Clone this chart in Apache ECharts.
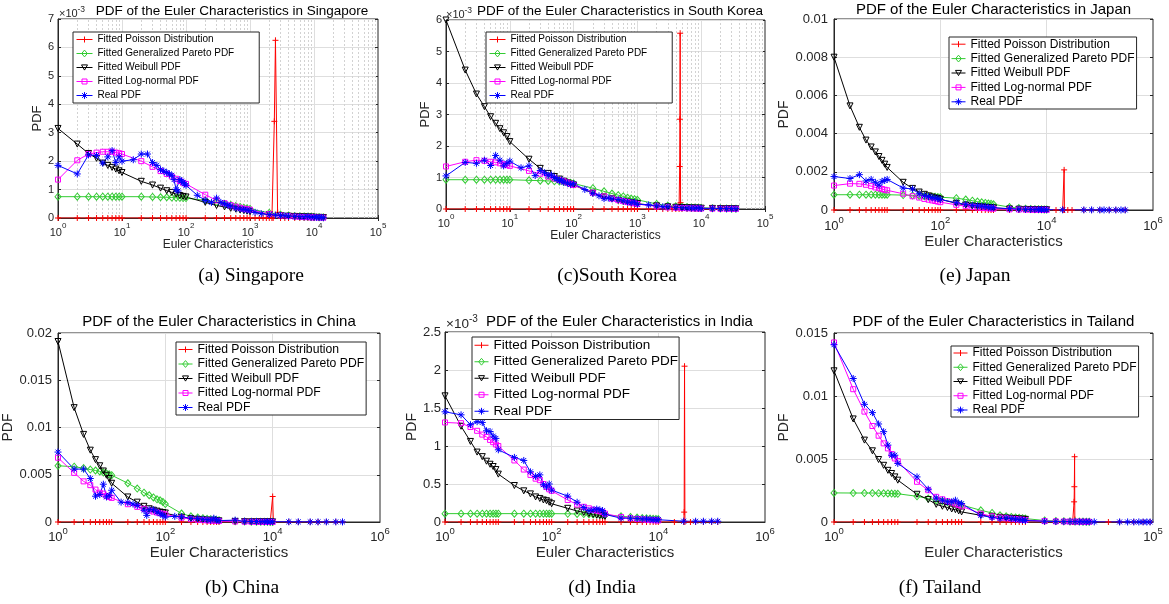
<!DOCTYPE html>
<html><head><meta charset="utf-8">
<script src="https://cdn.jsdelivr.net/npm/echarts@6/dist/echarts.min.js"></script>
<style>html,body{margin:0;padding:0;background:#fff}#c{width:1169px;height:604px}</style>
</head><body><div id="c"></div>
<script>
// ======================= DATA (PDF values in units of 1e-3) =======================
const NAMES = ['Fitted Poisson Distribution','Fitted Generalized Pareto PDF','Fitted Weibull PDF','Fitted Log-normal PDF','Real PDF'];

// ---- Singapore ----
const sgFitX = [1,2,3,4,5,6,7,8,9,10,20,30,40,50,60,70,80,90,100,200,300,400,500,600,700,800,900,1000,2000,3000,4000,5000,6000,7000,8000,9000,10000,12000,14000];
const sgPareto = [0.75,0.75,0.75,0.75,0.75,0.75,0.75,0.75,0.75,0.75,0.75,0.74,0.73,0.73,0.72,0.71,0.71,0.70,0.70,0.62,0.56,0.50,0.46,0.42,0.39,0.36,0.34,0.32,0.18,0.12,0.09,0.07,0.06,0.05,0.045,0.04,0.035,0.03,0.025];
const sgWeibull = [3.15,2.6,2.27,2.1,1.93,1.85,1.78,1.72,1.66,1.6,1.29,1.16,1.05,0.96,0.9,0.84,0.79,0.76,0.74,0.55,0.44,0.39,0.34,0.31,0.28,0.26,0.24,0.22,0.12,0.085,0.065,0.055,0.045,0.04,0.035,0.03,0.027,0.022,0.018];
const sgLognorm = [1.35,2.03,2.25,2.3,2.33,2.33,2.33,2.3,2.28,2.25,2.0,1.8,1.65,1.55,1.46,1.38,1.3,1.24,1.2,0.82,0.62,0.52,0.45,0.4,0.36,0.33,0.31,0.29,0.14,0.09,0.065,0.05,0.04,0.033,0.028,0.024,0.02,0.016,0.013];
const sgRealX = [1,2,3,4,5,6,7,8,9,10,15,20,25,30,35,40,45,50,55,60,65,70,75,80,85,90,95,100,150,200,250,300,350,400,450,500,600,700,800,900,1000,1200,1500,2000,2500,3000,3500,4000,5000,6000,7000,8000,9000,10000,11000,12000,13000,14000];
const sgRealY = [1.85,1.55,2.22,2.2,1.93,2.15,2.37,1.95,2.15,2.0,2.05,2.25,2.25,1.95,1.85,1.7,1.65,1.6,1.55,1.5,1.35,1.0,0.95,1.35,1.3,1.25,1.2,1.15,0.8,0.62,0.55,0.7,0.55,0.5,0.45,0.42,0.35,0.32,0.3,0.28,0.26,0.2,0.15,0.12,0.1,0.09,0.08,0.07,0.06,0.05,0.04,0.05,0.03,0.03,0.02,0.02,0.02,0.01];
const sgPoisX = [1,2,3,4,5,6,7,8,9,10,20,30,40,50,60,70,80,90,100,200,300,400,500,600,700,800,900,1000,1200,1400,1600,1800,2000,2200,2300,2400,2500,2700,3000,3500,4000,5000,6000,7000,8000,9000,10000,12000,14000];
const sgPoisY = [0,0,0,0,0,0,0,0,0,0,0,0,0,0,0,0,0,0,0,0,0,0,0,0,0,0,0,0,0,0,0,0,0,0,0,3.4,6.25,0.2,0,0,0,0,0,0,0,0,0,0,0];

// ---- South Korea ----
const skFitX = [1,2,3,4,5,6,7,8,9,10,20,30,40,50,60,70,80,90,100,200,300,400,500,600,700,800,900,1000,2000,3000,4000,5000,6000,7000,8000,9000,10000,15000,20000,25000,30000,35000];
const skPareto = [0.93,0.93,0.93,0.93,0.93,0.93,0.93,0.93,0.93,0.93,0.91,0.9,0.89,0.88,0.87,0.86,0.85,0.83,0.81,0.66,0.56,0.49,0.44,0.4,0.36,0.33,0.31,0.29,0.16,0.11,0.085,0.07,0.06,0.05,0.045,0.04,0.035,0.025,0.02,0.015,0.012,0.01];
const skWeibull = [6.0,4.41,3.65,3.25,2.93,2.72,2.55,2.42,2.3,2.14,1.58,1.29,1.13,1.03,0.95,0.88,0.83,0.79,0.76,0.5,0.38,0.32,0.27,0.24,0.22,0.2,0.18,0.17,0.1,0.07,0.055,0.045,0.04,0.035,0.03,0.027,0.025,0.018,0.013,0.01,0.008,0.007];
const skLognorm = [1.35,1.5,1.55,1.53,1.5,1.48,1.45,1.42,1.4,1.37,1.21,1.12,1.03,0.97,0.92,0.88,0.84,0.8,0.76,0.52,0.4,0.33,0.28,0.25,0.22,0.2,0.18,0.16,0.08,0.05,0.04,0.03,0.025,0.02,0.018,0.015,0.013,0.01,0.008,0.006,0.005,0.004];
const skRealX = [1,2,3,4,5,6,7,8,9,10,15,20,25,30,35,40,45,50,55,60,65,70,80,90,100,150,200,250,300,350,400,500,600,700,800,900,1000,1500,2000,2500,3000,4000,5000,6000,7000,8000,9000,10000,15000,20000,25000,30000,35000];
const skRealY = [1.05,1.48,1.45,1.55,1.38,1.7,1.55,1.37,1.45,1.52,1.31,1.37,1.06,1.22,1.15,1.07,1.08,1.0,0.95,0.9,0.92,0.85,0.82,0.78,0.8,0.62,0.5,0.42,0.33,0.35,0.32,0.3,0.26,0.22,0.2,0.22,0.15,0.13,0.1,0.07,0.07,0.05,0.04,0.03,0.03,0.03,0.03,0.02,0.02,0.015,0.01,0.01,0.01];
const skPoisX = [1,2,3,4,5,6,7,8,9,10,20,30,40,50,60,70,80,90,100,200,300,400,500,600,700,800,900,1000,1500,2000,2500,3000,3500,4000,4500,4600,4630,4680,4750,5000,6000,7000,8000,9000,10000,15000,20000,25000,30000,35000];
const skPoisY = [0,0,0,0,0,0,0,0,0,0,0,0,0,0,0,0,0,0,0,0,0,0,0,0,0,0,0,0,0,0,0,0,0,0,0,1.35,2.85,5.58,0.2,0,0,0,0,0,0,0,0,0,0,0];

// ---- Japan ----
const jpFitX = [1,2,3,4,5,6,7,8,9,10,20,30,40,50,60,70,80,90,100,200,300,400,500,600,700,800,900,1000,2000,3000,4000,5000,6000,7000,8000,9000,10000];
const jpPareto = [0.8,0.8,0.8,0.8,0.8,0.8,0.8,0.8,0.8,0.8,0.78,0.76,0.74,0.72,0.71,0.7,0.69,0.68,0.67,0.62,0.55,0.49,0.44,0.4,0.37,0.34,0.32,0.3,0.15,0.1,0.07,0.055,0.045,0.04,0.035,0.03,0.027];
const jpWeibull = [8.0,5.45,4.33,3.66,3.3,3.04,2.8,2.6,2.4,2.23,1.45,1.13,0.94,0.82,0.74,0.68,0.63,0.6,0.56,0.35,0.26,0.21,0.18,0.16,0.14,0.13,0.12,0.11,0.055,0.04,0.03,0.025,0.02,0.018,0.016,0.014,0.012];
const jpLognorm = [1.28,1.38,1.37,1.32,1.25,1.18,1.14,1.1,1.06,1.03,0.85,0.72,0.65,0.58,0.54,0.5,0.47,0.44,0.41,0.27,0.2,0.16,0.13,0.11,0.1,0.09,0.08,0.07,0.035,0.023,0.017,0.014,0.011,0.01,0.009,0.008,0.007];
const jpRealX = [1,2,3,4,5,6,7,8,9,10,20,30,40,50,60,70,80,90,100,200,300,400,500,600,700,800,900,1000,2000,3000,4000,5000,6000,7000,8000,9000,10000,20000,50000,70000,100000,120000,150000,200000,250000,300000];
const jpRealY = [1.75,1.65,1.85,1.52,1.6,1.45,1.3,1.5,1.55,1.6,1.15,1.1,0.85,0.75,0.7,0.65,0.62,0.6,0.55,0.38,0.3,0.25,0.22,0.2,0.18,0.15,0.13,0.12,0.07,0.05,0.04,0.035,0.03,0.025,0.022,0.02,0.018,0.01,0.006,0.005,0.004,0.004,0.003,0.003,0.002,0.002];
const jpPoisX = [1,2,3,4,5,6,7,8,9,10,20,30,40,50,60,70,80,90,100,200,300,400,500,600,700,800,900,1000,2000,3000,4000,5000,6000,7000,8000,9000,10000,15000,20000,21000,21300,21600,25000,30000,50000,70000,100000,150000,200000,300000];
const jpPoisY = [0,0,0,0,0,0,0,0,0,0,0,0,0,0,0,0,0,0,0,0,0,0,0,0,0,0,0,0,0,0,0,0,0,0,0,0,0,0,0,0,2.1,0,0,0,0,0,0,0,0,0];

// ---- China ----
const cnFitX = [1,2,3,4,5,6,7,8,9,10,20,30,40,50,60,70,80,90,100,200,300,400,500,600,700,800,900,1000,2000,3000,4000,5000,6000,7000,8000,9000,10000];
const cnPareto = [5.95,5.85,5.7,5.55,5.45,5.35,5.25,5.15,5.05,4.95,4.1,3.54,3.1,2.83,2.6,2.4,2.3,2.12,1.9,0.9,0.6,0.48,0.4,0.33,0.28,0.24,0.21,0.19,0.08,0.05,0.035,0.028,0.022,0.019,0.016,0.014,0.012];
const cnWeibull = [19.1,12.1,9.27,7.6,6.6,5.95,5.4,4.95,4.6,4.1,2.65,2.1,1.66,1.4,1.25,1.15,1.05,1.0,0.95,0.5,0.35,0.28,0.22,0.19,0.17,0.15,0.13,0.12,0.06,0.04,0.03,0.025,0.02,0.018,0.016,0.014,0.012];
const cnLognorm = [6.8,5.2,4.3,3.9,3.43,3.1,3.0,2.76,2.65,2.55,1.88,1.6,1.4,1.2,1.1,1.0,0.92,0.86,0.8,0.45,0.3,0.23,0.2,0.17,0.15,0.13,0.12,0.1,0.05,0.03,0.025,0.02,0.015,0.013,0.011,0.01,0.009];
const cnRealX = [1,2,3,4,5,6,7,8,9,10,15,20,25,30,40,45,50,60,70,80,90,100,150,200,300,400,500,600,700,800,900,1000,2000,3000,4000,5000,6000,7000,8000,9000,10000,20000,30000,50000,70000,100000,150000,200000];
const cnRealY = [7.4,5.6,5.6,4.6,2.73,2.9,4.0,2.65,2.83,3.36,2.1,2.05,1.9,1.75,1.24,0.7,1.3,1.3,1.06,0.88,0.7,0.53,0.6,0.55,0.4,0.35,0.3,0.25,0.2,0.4,0.2,0.15,0.2,0.08,0.06,0.05,0.04,0.04,0.03,0.03,0.03,0.02,0.02,0.015,0.01,0.01,0.01,0.01];
const cnPoisX = [1,2,3,4,5,6,7,8,9,10,20,30,40,50,60,70,80,90,100,200,300,400,500,600,700,800,900,1000,2000,3000,4000,5000,6000,7000,8000,9000,9700,10000,10300,20000,30000,50000,70000,100000,150000,200000];
const cnPoisY = [0,0,0,0,0,0,0,0,0,0,0,0,0,0,0,0,0,0,0,0,0,0,0,0,0,0,0,0,0,0,0,0,0,0,0,0,0,2.7,0,0,0,0,0,0,0,0];

// ---- India ----
const inFitX = [1,2,3,4,5,6,7,8,9,10,20,30,40,50,60,70,80,90,100,200,300,400,500,600,700,800,900,1000,2000,3000,4000,5000,6000,7000,8000,9000,10000];
const inPareto = [0.11,0.11,0.11,0.11,0.11,0.11,0.11,0.11,0.11,0.11,0.11,0.11,0.11,0.11,0.11,0.11,0.11,0.11,0.11,0.108,0.106,0.104,0.102,0.1,0.098,0.096,0.094,0.092,0.075,0.066,0.058,0.052,0.048,0.045,0.042,0.04,0.038];
const inWeibull = [1.66,1.26,1.06,0.92,0.86,0.8,0.76,0.73,0.69,0.63,0.48,0.41,0.37,0.33,0.31,0.29,0.28,0.26,0.24,0.18,0.145,0.125,0.11,0.1,0.09,0.085,0.08,0.075];
const inLognorm = [1.31,1.3,1.25,1.2,1.15,1.12,1.08,1.05,1.02,1.0,0.81,0.69,0.62,0.57,0.55,0.5,0.46,0.43,0.41,0.29,0.23,0.2,0.18,0.16,0.15,0.14,0.13,0.11,0.066,0.05,0.04,0.035,0.03,0.027,0.024,0.022,0.02];
const inRealX = [1,2,3,4,5,6,7,8,9,10,20,30,40,50,60,70,80,90,100,200,300,400,500,600,700,800,900,1000,2000,3000,4000,5000,6000,7000,8000,9000,10000,30000,50000,70000,100000,130000];
const inRealY = [1.45,1.41,1.28,1.32,1.31,1.2,1.19,1.13,1.1,0.95,0.85,0.81,0.66,0.6,0.62,0.49,0.46,0.5,0.42,0.34,0.26,0.19,0.15,0.16,0.17,0.16,0.15,0.1,0.05,0.05,0.045,0.04,0.04,0.035,0.03,0.03,0.03,0.01,0.01,0.01,0.01,0.01];
const inPoisX = [1,2,3,4,5,6,7,8,9,10,20,30,40,50,60,70,80,90,100,200,300,400,500,600,700,800,900,1000,2000,3000,4000,5000,6000,7000,8000,9000,10000,20000,30000,30500,31000,31500,40000,50000,70000,100000,130000];
const inPoisY = [0,0,0,0,0,0,0,0,0,0,0,0,0,0,0,0,0,0,0,0,0,0,0,0,0,0,0,0,0,0,0,0,0,0,0,0,0,0,0,0.13,2.05,0,0,0,0,0,0];

// ---- Tailand ----
const thFitX = [1,2,3,4,5,6,7,8,9,10,20,30,40,50,60,70,80,90,100,200,300,400,500,600,700,800,900,1000,2000,3000,4000,5000,6000,7000,8000,9000,10000];
const thPareto = [2.31,2.3,2.3,2.3,2.29,2.28,2.27,2.26,2.25,2.24,2.04,1.86,1.73,1.65,1.57,1.51,1.46,1.4,1.35,0.93,0.72,0.53,0.45,0.4,0.36,0.33,0.3,0.27,0.12,0.08,0.06,0.05,0.04,0.035,0.03,0.028,0.025];
const thWeibull = [12.0,8.18,6.5,5.65,4.96,4.5,4.1,3.85,3.58,3.32,2.2,1.78,1.4,1.25,1.15,1.03,0.98,0.88,0.8,0.53,0.45,0.37,0.32,0.29,0.26,0.24,0.22,0.21];
const thLognorm = [14.25,10.54,8.76,7.62,6.85,6.24,5.84,5.39,5.04,4.83,3.19,2.52,2.0,1.8,1.65,1.55,1.45,1.35,1.25,0.66,0.45,0.35,0.3,0.26,0.23,0.2,0.18,0.16,0.07,0.05,0.04,0.035,0.03,0.025,0.02,0.018,0.016];
const thRealX = [1,2,3,4,5,6,7,8,9,10,20,30,40,50,60,70,80,90,100,200,300,400,500,600,700,800,900,1000,2000,3000,4000,5000,6000,7000,8000,9000,10000,12000,30000,40000,50000,60000,70000,80000,90000];
const thRealY = [14.07,11.39,9.34,8.68,7.78,7.17,6.1,5.3,5.3,4.65,3.58,2.6,1.9,1.73,1.6,1.6,1.73,1.5,1.46,0.53,0.35,0.27,0.32,0.27,0.22,0.18,0.15,0.12,0.06,0.04,0.03,0.03,0.025,0.02,0.02,0.015,0.015,0.01,0.005,0.005,0.004,0.004,0.003,0.003,0.003];
const thPoisX = [1,2,3,4,5,6,7,8,9,10,20,30,40,50,60,70,80,90,100,200,300,400,500,600,700,800,900,1000,2000,3000,4000,5000,5500,5700,5800,5850,5900,5950,6100,7000,8000,9000,10000,20000,30000,50000,70000,90000];
const thPoisY = [0,0,0,0,0,0,0,0,0,0,0,0,0,0,0,0,0,0,0,0,0,0,0,0,0,0,0,0,0,0,0,0,0,0,1.6,2.8,5.18,0.2,0,0,0,0,0,0,0,0,0,0];

// ======================= LAYOUT / STYLE =======================
const FONT = 'Liberation Sans';
const SRC = {
  sg: [[sgPoisX,sgPoisY],[sgFitX,sgPareto],[sgFitX,sgWeibull],[sgFitX,sgLognorm],[sgRealX,sgRealY]],
  sk: [[skPoisX,skPoisY],[skFitX,skPareto],[skFitX,skWeibull],[skFitX,skLognorm],[skRealX,skRealY]],
  jp: [[jpPoisX,jpPoisY],[jpFitX,jpPareto],[jpFitX,jpWeibull],[jpFitX,jpLognorm],[jpRealX,jpRealY]],
  cn: [[cnPoisX,cnPoisY],[cnFitX,cnPareto],[cnFitX,cnWeibull],[cnFitX,cnLognorm],[cnRealX,cnRealY]],
  in: [[inPoisX,inPoisY],[inFitX,inPareto],[inFitX,inWeibull],[inFitX,inLognorm],[inRealX,inRealY]],
  th: [[thPoisX,thPoisY],[thFitX,thPareto],[thFitX,thWeibull],[thFitX,thLognorm],[thRealX,thRealY]]
};
const PLOTS = [
  {id:'sg', title:'PDF of the Euler Characteristics in Singapore', caption:'(a) Singapore',
   grid:[58,19,320,199], xMax:1e5, exps:[0,1,2,3,4,5], major:[10,100,1000,10000], minor:true,
   yMax:7, yInt:1, k:1, tick:11, sup:8, xName:12, xGap:19, yName:13, yGap:12, xMargin:4, yMargin:4,
   leg:{left:73, top:32, font:10, gap:4, pad:[2.5,25,2.5,3], w:16},
   ttl:{x:232, y:11, size:13.5}, cap:{x:251, y:276}, exp:{x:59, y:14, size:11, sx:77.5, sy:10, ss:8.5}},
  {id:'sk', title:'PDF of the Euler Characteristics in South Korea', caption:'(c)South Korea',
   grid:[446,20,319,189], xMax:1e5, exps:[0,1,2,3,4,5], major:[10,100,1000,10000], minor:true,
   yMax:6, yInt:1, k:1, tick:11, sup:8, xName:12, xGap:19, yName:13, yGap:12.5, xMargin:4, yMargin:4,
   leg:{left:486, top:32, font:10, gap:4, pad:[2.5,25,2.5,3], w:16},
   ttl:{x:620, y:11, size:13.5}, cap:{x:617, y:276}, exp:{x:446, y:15, size:11, sx:464.5, sy:11, ss:8.5}},
  {id:'jp', title:'PDF of the Euler Characteristics in Japan', caption:'(e) Japan',
   grid:[834,19,319,191], xMax:1e6, exps:[0,2,4,6], major:[100,10000], minor:false,
   yMax:0.01, yInt:0.002, k:0.001, tick:13, sup:9.5, xName:15, xGap:24, yName:14, yGap:40, xMargin:5, yMargin:6,
   leg:{left:949, top:37, font:12, gap:2.4, pad:[1.2,2,1.2,2], w:14},
   ttl:{x:993.5, y:10, size:15}, cap:{x:975, y:276}, exp:null},
  {id:'cn', title:'PDF of the Euler Characteristics in China', caption:'(b) China',
   grid:[58,333,322,189], xMax:1e6, exps:[0,2,4,6], major:[100,10000], minor:false,
   yMax:0.02, yInt:0.005, k:0.001, tick:13, sup:9.5, xName:15, xGap:23, yName:14, yGap:38, xMargin:4, yMargin:6,
   leg:{left:176, top:342, font:12.2, gap:2.5, pad:[1.5,2,1.5,2], w:14},
   ttl:{x:219, y:322, size:15}, cap:{x:242, y:588}, exp:null},
  {id:'in', title:'PDF of the Euler Characteristics in India', caption:'(d) India',
   grid:[445,332,320,190], xMax:1e6, exps:[0,2,4,6], major:[100,10000], minor:false,
   yMax:2.5, yInt:0.5, k:1, tick:13, sup:9.5, xName:15, xGap:23, yName:14, yGap:24, xMargin:4, yMargin:4,
   leg:{left:472, top:337, font:13.5, gap:2.5, pad:[1.25,1,1.25,2], w:14},
   ttl:{x:619.5, y:322, size:15}, cap:{x:602, y:588}, exp:{x:446, y:324, size:13.5, sx:469, sy:319, ss:10}},
  {id:'th', title:'PDF of the Euler Characteristics in Tailand', caption:'(f) Tailand',
   grid:[834,333,319,189], xMax:1e5, exps:[0,5], major:[], minor:false,
   yMax:0.015, yInt:0.005, k:0.001, tick:13, sup:9.5, xName:15, xGap:23, yName:14, yGap:40, xMargin:4, yMargin:6,
   leg:{left:951, top:346, font:12, gap:2.25, pad:[1,2,1,2], w:14},
   ttl:{x:993.5, y:322, size:15}, cap:{x:940, y:588}, exp:null}
];
const TRANSP = 'rgba(255,255,255,0)';
const STY = [
  {symbol:'path://M5,0L5,10M0,5L10,5', size:6, color:'#ff0000', fill:'#ff0000'},
  {symbol:'diamond', size:[6,7], color:'#33cc33', fill:TRANSP},
  {symbol:'path://M0,0L10,0L5,9Z', size:6, color:'#000000', fill:TRANSP},
  {symbol:'rect', size:5, color:'#ff00ff', fill:TRANSP},
  {symbol:'path://M5,0L5,10M0,5L10,5M1.5,1.5L8.5,8.5M8.5,1.5L1.5,8.5', size:7, color:'#0000ff', fill:'#0000ff'}
];
// legend icons: line with marker in the middle; drawn in a W x H box (H = W/2) so no rescaling
function legIcon(s, W) {
  const H = W / 2, c = W / 2, m = H / 2, r = 3;
  let d = 'M0,0L0,0M' + W + ',' + H + 'L' + W + ',' + H + 'M0,' + m + 'L' + W + ',' + m;
  if (s === 0) d += 'M' + c + ',' + (m - r) + 'L' + c + ',' + (m + r);
  if (s === 1) d += 'M' + c + ',' + (m - 3.4) + 'L' + (c + 2.8) + ',' + m + 'L' + c + ',' + (m + 3.4) + 'L' + (c - 2.8) + ',' + m + 'Z';
  if (s === 2) d += 'M' + (c - 3) + ',' + (m - 2.6) + 'L' + (c + 3) + ',' + (m - 2.6) + 'L' + c + ',' + (m + 2.6) + 'Z';
  if (s === 3) d += 'M' + (c - 2.5) + ',' + (m - 2.5) + 'L' + (c + 2.5) + ',' + (m - 2.5) + 'L' + (c + 2.5) + ',' + (m + 2.5) + 'L' + (c - 2.5) + ',' + (m + 2.5) + 'Z';
  if (s === 4) d += 'M' + c + ',' + (m - 3.4) + 'L' + c + ',' + (m + 3.4) + 'M' + (c - 3.4) + ',' + m + 'L' + (c + 3.4) + ',' + m +
                    'M' + (c - 2.4) + ',' + (m - 2.4) + 'L' + (c + 2.4) + ',' + (m + 2.4) + 'M' + (c + 2.4) + ',' + (m - 2.4) + 'L' + (c - 2.4) + ',' + (m + 2.4);
  return 'path://' + d;
}
const AX = '#262626', GRIDC = '#dedede', MINORC = '#d2d2d2';

const grids = [], xAxes = [], yAxes = [], xMirror = [], yMirror = [], legends = [], series = [], graphics = [];
PLOTS.forEach((p, i) => {
  grids.push({left:p.grid[0], top:p.grid[1], width:p.grid[2], height:p.grid[3], show:true, borderColor:AX, borderWidth:1, backgroundColor:'#fff'});
  const exps = p.exps;
  xAxes.push({
    type:'log', logBase:10, gridIndex:i, min:1, max:p.xMax,
    name:'Euler Characteristics', nameLocation:'middle', nameGap:p.xGap,
    nameTextStyle:{fontSize:p.xName, color:AX, fontFamily:FONT},
    axisLine:{show:true, lineStyle:{color:AX, width:1}},
    axisTick:{show:p.minor, inside:true, length:3, lineStyle:{color:AX}},
    splitLine:{show:false},
    axisLabel:{margin:p.xMargin, color:AX,
      formatter: v => { const e = Math.round(Math.log10(v)); return exps.indexOf(e) >= 0 ? '{b|10}{s|' + e + '}' : ''; },
      rich:{b:{fontSize:p.tick, fontFamily:FONT, color:AX, lineHeight:p.tick + 5, verticalAlign:'bottom'},
            s:{fontSize:p.sup, fontFamily:FONT, color:AX, verticalAlign:'top'}}}
  });
  xMirror.push({
    type:'log', logBase:10, gridIndex:i, min:1, max:p.xMax, position:'top',
    axisLine:{show:false}, axisLabel:{show:false}, splitLine:{show:false},
    axisTick:{show:p.minor, inside:true, length:3, lineStyle:{color:AX}}
  });
  yAxes.push({
    type:'value', gridIndex:i, min:0, max:p.yMax, interval:p.yInt,
    name:'PDF', nameLocation:'middle', nameGap:p.yGap, nameRotate:90,
    nameTextStyle:{fontSize:p.yName, color:AX, fontFamily:FONT},
    axisLine:{show:true, lineStyle:{color:AX, width:1}},
    axisTick:{show:true, inside:true, length:3, lineStyle:{color:AX}},
    axisLabel:{fontSize:p.tick, color:AX, fontFamily:FONT, margin:p.yMargin},
    splitLine:{show:true, lineStyle:{color:GRIDC, width:1}}
  });
  yMirror.push({
    type:'value', gridIndex:i, min:0, max:p.yMax, interval:p.yInt, position:'right',
    axisLine:{show:false}, axisLabel:{show:false}, splitLine:{show:false},
    axisTick:{show:true, inside:true, length:3, lineStyle:{color:AX}}
  });
  legends.push({
    data: NAMES.map((n, s) => ({name:n, icon:legIcon(s, p.leg.w),
      itemStyle:{color:TRANSP, borderColor:STY[s].color, borderWidth:1, opacity:1},
      textStyle:{color:'#000'}})),
    orient:'vertical', align:'left', left:p.leg.left, top:p.leg.top,
    itemWidth:p.leg.w, itemHeight:p.leg.w / 2, itemGap:p.leg.gap, padding:p.leg.pad,
    backgroundColor:'#fff', borderColor:AX, borderWidth:1, borderRadius:0,
    inactiveColor:'#000', inactiveBorderColor:'#000',
    textStyle:{fontSize:p.leg.font, color:'#000', fontFamily:FONT}, selectedMode:false
  });
  // vertical grid lines (major solid, minor dashed) at decade positions of the log axis
  const gl = [];
  p.major.forEach(v => gl.push({xAxis:v, lineStyle:{color:GRIDC, type:'solid', width:1}}));
  if (p.minor) {
    for (let d = 1; d < p.xMax; d *= 10) for (let m = 2; m <= 9; m++) gl.push({xAxis:d * m, lineStyle:{color:MINORC, type:[2,2], width:1}});
  }
  SRC[p.id].forEach((pair, s) => {
    const xs = pair[0], ys = pair[1], st = STY[s];
    const ser = {
      type:'line', name:NAMES[s], xAxisIndex:i, yAxisIndex:i,
      data: ys.map((y, j) => [xs[j], y * p.k]),
      symbol:st.symbol, symbolSize:st.size, showSymbol:true, showAllSymbol:true,
      lineStyle:{color:st.color, width:1},
      itemStyle:{color:st.fill, borderColor:st.color, borderWidth:1},
      emphasis:{disabled:true}, silent:true, animation:false, clip:true
    };
    if (s === 0 && gl.length) {
      ser.markLine = {silent:true, symbol:'none', z:1, label:{show:false}, animation:false, data:gl};
    }
    series.push(ser);
  });
  graphics.push({type:'text', x:p.ttl.x, y:p.ttl.y, silent:true,
    style:{text:p.title, fontSize:p.ttl.size, fontFamily:FONT, fill:'#000', align:'center', verticalAlign:'middle', textAlign:'center', textVerticalAlign:'middle'}});
  graphics.push({type:'text', x:p.cap.x, y:p.cap.y, silent:true,
    style:{text:p.caption, fontSize:19.5, fontFamily:'Liberation Serif', fill:'#000', align:'center', verticalAlign:'middle', textAlign:'center', textVerticalAlign:'middle'}});
  if (p.exp) {
    graphics.push({type:'text', x:p.exp.x, y:p.exp.y, silent:true,
      style:{text:'×10', fontSize:p.exp.size, fontFamily:FONT, fill:AX, align:'left', verticalAlign:'middle', textAlign:'left', textVerticalAlign:'middle'}});
    graphics.push({type:'text', x:p.exp.sx, y:p.exp.sy, silent:true,
      style:{text:'-3', fontSize:p.exp.ss, fontFamily:FONT, fill:AX, align:'left', verticalAlign:'middle', textAlign:'left', textVerticalAlign:'middle'}});
  }
});

const chart = echarts.init(document.getElementById('c'), null, {renderer:'canvas', width:1169, height:604});
chart.setOption({
  animation:false, backgroundColor:'#fff',
  textStyle:{fontFamily:FONT},
  grid:grids, xAxis:xAxes.concat(xMirror), yAxis:yAxes.concat(yMirror), legend:legends, series:series, graphic:graphics
});
</script>
</body></html>
